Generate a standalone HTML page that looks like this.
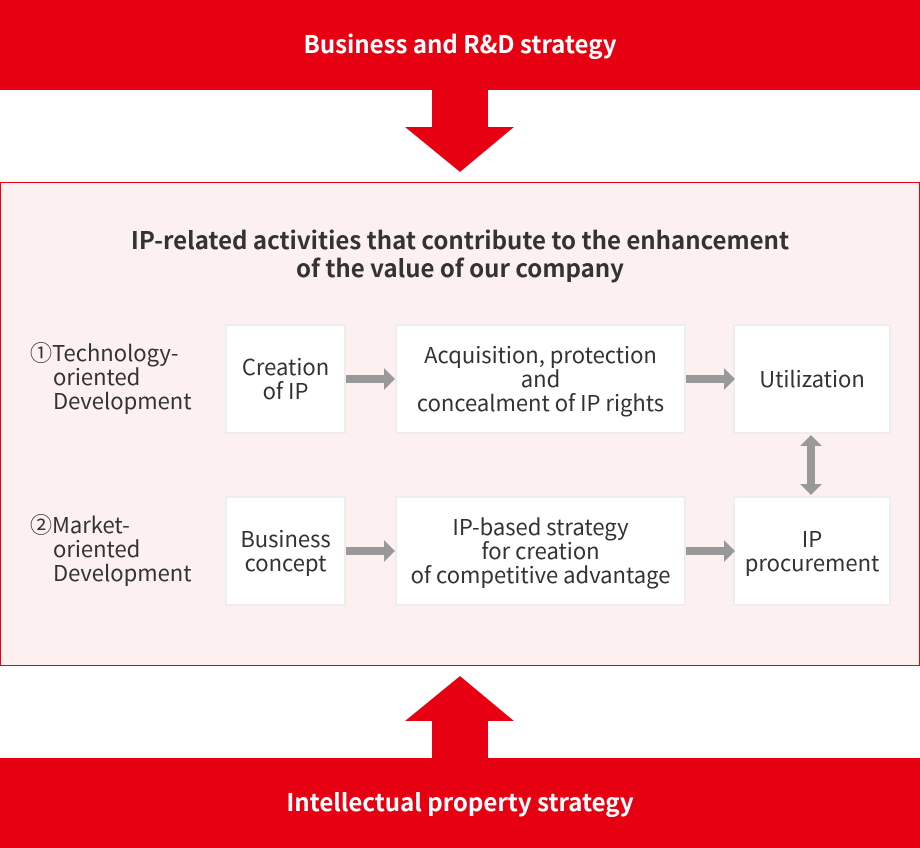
<!DOCTYPE html><html><head><style>
body{margin:0;width:920px;height:848px;position:relative;background:#fff;font-family:"Noto Sans CJK JP","Liberation Sans",sans-serif;color:#333;overflow:hidden}
.bar{position:absolute;left:0;width:920px;height:90px;background:#e60012;color:#fff;font-weight:bold;font-size:24px;line-height:30px;display:flex;align-items:center;justify-content:center}
.bar div{margin-top:-5px}
.panel{position:absolute;left:0;top:182px;width:918px;height:482px;border:1px solid #e60012;background:#fdf0f1}
.box{position:absolute;background:#fff;border:2px solid #eee;box-sizing:border-box;display:flex;align-items:center;justify-content:center;text-align:center;font-size:22px;line-height:24px}
.box div{margin-top:-3px}
.lab{position:absolute;left:30px;font-size:22px;line-height:24px}
.lab span{display:block;padding-left:23px}
.t{position:absolute;left:0;width:920px;text-align:center;font-weight:bold;font-size:24px;line-height:28px;top:225px}
</style></head><body>
<div class="bar" style="top:0"><div>Business and R&amp;D strategy</div></div>
<div class="bar" style="top:758px"><div>Intellectual property strategy</div></div>
<svg style="position:absolute;left:0;top:0" width="920" height="848">
<polygon points="432,90 488,90 488,127 514,127 460,172 405,127 432,127" fill="#e60012"/>
<polygon points="432,758 488,758 488,721 514,721 460,676 405,721 432,721" fill="#e60012"/>
</svg>
<div class="panel"></div>
<div class="t">IP-related activities that contribute to the enhancement<br>of the value of our company</div>
<div class="lab" style="top:340px">①Technology-<span>oriented</span><span>Development</span></div>
<div class="lab" style="top:512px">②Market-<span>oriented</span><span>Development</span></div>
<div class="box" style="left:225px;top:324px;width:121px;height:110px"><div>Creation<br>of IP</div></div>
<div class="box" style="left:395px;top:324px;width:291px;height:110px"><div>Acquisition, protection<br>and<br>concealment of IP rights</div></div>
<div class="box" style="left:733px;top:324px;width:158px;height:110px"><div>Utilization</div></div>
<div class="box" style="left:225px;top:496px;width:121px;height:110px"><div>Business<br>concept</div></div>
<div class="box" style="left:395px;top:496px;width:291px;height:110px"><div>IP-based strategy<br>for creation<br>of competitive advantage</div></div>
<div class="box" style="left:733px;top:496px;width:158px;height:110px"><div>IP<br>procurement</div></div>
<svg style="position:absolute;left:0;top:0" width="920" height="848">
<g fill="#999">
<polygon points="346,375 384,375 384,368 395,379 384,390 384,383 346,383"/>
<polygon points="686,375 724,375 724,368 735,379 724,390 724,383 686,383"/>
<polygon points="346,547 384,547 384,540 395,551 384,562 384,555 346,555"/>
<polygon points="686,547 724,547 724,540 735,551 724,562 724,555 686,555"/>
<polygon points="811,435 822,446 815,446 815,484 822,484 811,495 800,484 807,484 807,446 800,446"/>
</g></svg>
</body></html>
